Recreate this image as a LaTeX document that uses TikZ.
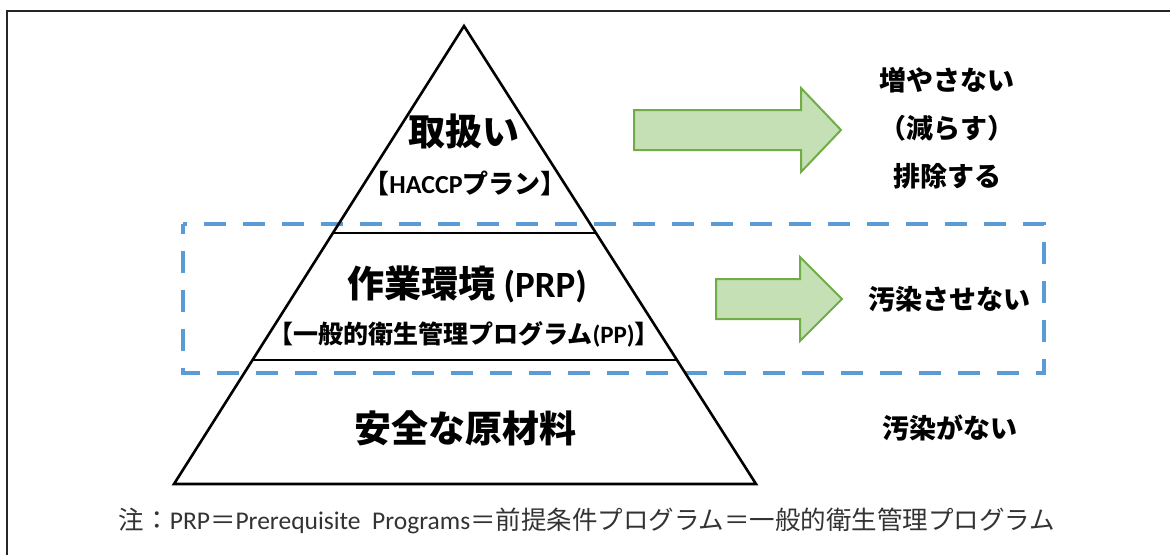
\documentclass[tikz,border=0pt]{standalone}
\usepackage{fontspec}
\usetikzlibrary{calc}
\setmainfont{Carlito}
\newfontfamily\jp{Noto Sans CJK JP}
\newcommand\J[1]{{\jp #1}}
\definecolor{arrfill}{HTML}{C5E0B4}
\definecolor{arrline}{HTML}{70AD47}
\definecolor{dashblue}{HTML}{5B9BD5}
\begin{document}
\begin{tikzpicture}[x=1pt,y=-1pt,
  frame/.style={line width=1.8pt,draw=black!85},
  pyr/.style={line width=2.6pt,line join=miter},
  layerline/.style={line width=2.6pt},
  dashbox/.style={draw=dashblue,line width=4pt,dash pattern=on 22pt off 17pt,dash phase=12pt},
  blockarrow/.style={fill=arrfill,draw=arrline,line width=2pt,line join=miter},
  bigtext/.style={font=\fontsize{37}{44}\selectfont\bfseries,inner sep=0pt},
  subtext/.style={font=\fontsize{26}{30}\selectfont\bfseries,inner sep=0pt},
  subtextb/.style={font=\fontsize{25}{30}\selectfont\bfseries,inner sep=0pt},
  sidetext/.style={font=\fontsize{27}{32}\selectfont\bfseries,inner sep=0pt},
  notetext/.style={font=\fontsize{25.5}{30}\selectfont,text=black!80,inner sep=0pt}]
\useasboundingbox (0,0) rectangle (1170,555);
% outer frame (only top and left edges visible)
\draw[frame] (1170,11) -- (7,11) -- (7,555);
% dashed box
\draw[dashbox] (183,224) rectangle (1044,373);
% pyramid
\coordinate (apex) at (464,26);
\coordinate (bl) at (174,484);
\coordinate (br) at (756,484);
\draw[pyr] (apex) -- (bl) -- (br) -- cycle;
\coordinate (d1l) at ($(apex)!0.4520!(bl)$);
\coordinate (d1r) at ($(apex)!0.4520!(br)$);
\coordinate (d2l) at ($(apex)!0.7293!(bl)$);
\coordinate (d2r) at ($(apex)!0.7293!(br)$);
\draw[layerline] (d1l) -- (d1r);
\draw[layerline] (d2l) -- (d2r);
% block arrows
\draw[blockarrow] (634,110) -- (801,110) -- (801,88) -- (841,130) -- (801,172) -- (801,150) -- (634,150) -- cycle;
\draw[blockarrow] (716,279) -- (800,279) -- (800,257) -- (842,299) -- (800,341) -- (800,319) -- (716,319) -- cycle;
% texts
\node[bigtext] (top) at (464,131) {\J{取扱い}};
\node[subtext] (haccp) at (465,183) {\J{【}HACCP\J{プラン】}};
\node[bigtext] (prp) at (467,284) {\J{作業環境} (PRP)};
\node[subtextb] (pp) at (464,334) {\J{【一般的衛生管理プログラム}(PP)\J{】}};
\node[bigtext] (base) at (465,428) {\J{安全な原材料}};
\node[sidetext] (r1) at (947,80) {\J{増やさない}};
\node[sidetext] (r2) at (947,128) {\J{（減らす）}};
\node[sidetext] (r3) at (947,176) {\J{排除する}};
\node[sidetext] (r4) at (949,299) {\J{汚染させない}};
\node[sidetext] (r5) at (950,428) {\J{汚染がない}};
\node[notetext] (note) at (587,521) {\J{注：}PRP\J{＝}Prerequisite\ \ Programs\J{＝前提条件プログラム＝一般的衛生管理プログラム}};
\end{tikzpicture}
\end{document}
